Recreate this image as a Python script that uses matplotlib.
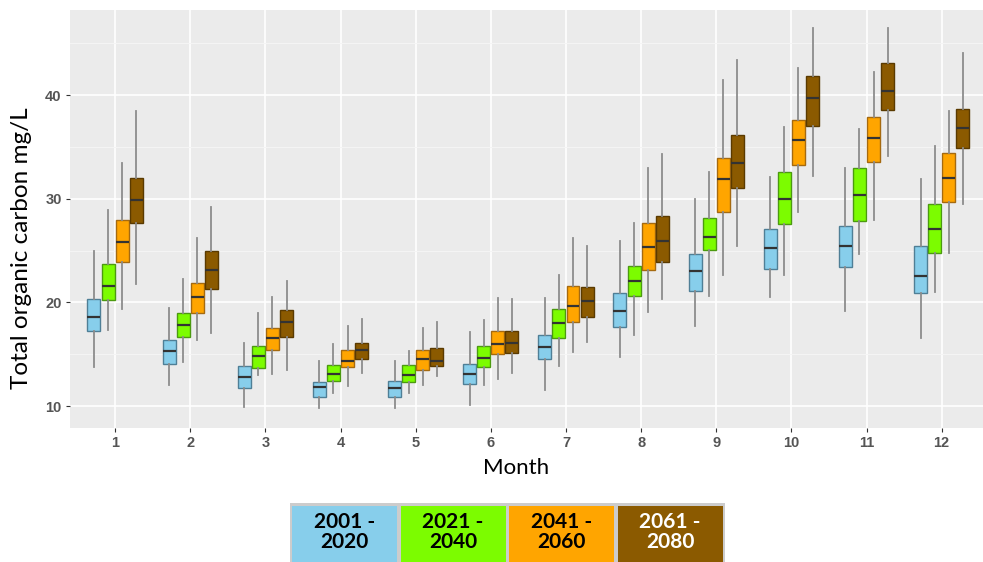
import matplotlib
matplotlib.use('Agg')
import matplotlib.pyplot as plt
from matplotlib.patches import Rectangle

months = [1, 2, 3, 4, 5, 6, 7, 8, 9, 10, 11, 12]
periods = ['2001 -\n2020', '2021 -\n2040', '2041 -\n2060', '2061 -\n2080']
fills = ['#87CEEB', '#7CFC00', '#FFA500', '#8B5A00']
edges = ['#4F7F96', '#4C9A10', '#A56A10', '#5A3A00']
text_cols = ['black', 'black', 'black', 'white']

# each row: whisker low, q1, median, q3, whisker high
p2001 = [[13.8, 17.2, 18.55, 20.3, 25.0],
         [12.0, 14.1, 15.35, 16.4, 19.5],
         [9.95, 11.7, 12.8, 13.9, 16.05],
         [9.8, 10.9, 11.8, 12.35, 14.3],
         [9.8, 10.85, 11.7, 12.4, 14.3],
         [10.1, 12.1, 13.1, 14.1, 17.1],
         [11.5, 14.5, 15.7, 16.85, 20.4],
         [14.7, 17.65, 19.2, 20.9, 25.9],
         [17.7, 21.1, 23.05, 24.7, 30.0],
         [20.55, 23.25, 25.2, 27.1, 32.1],
         [19.2, 23.4, 25.4, 27.4, 33.0],
         [16.6, 20.9, 22.55, 25.4, 31.9]]
p2021 = [[17.3, 20.2, 21.6, 23.7, 28.9],
         [14.2, 16.7, 17.8, 18.95, 22.3],
         [13.0, 13.7, 14.8, 15.8, 18.95],
         [11.3, 12.4, 13.1, 14.0, 15.95],
         [11.3, 12.3, 13.0, 13.95, 15.35],
         [12.05, 13.75, 14.6, 15.8, 18.3],
         [13.85, 16.6, 18.05, 19.4, 22.65],
         [16.85, 20.65, 22.1, 23.55, 27.7],
         [20.6, 25.05, 26.3, 28.1, 32.6],
         [22.6, 27.55, 30.0, 32.6, 36.95],
         [24.7, 27.85, 30.4, 33.0, 36.7],
         [21.0, 24.8, 27.05, 29.5, 35.1]]
p2041 = [[19.4, 23.9, 25.8, 27.9, 33.4],
         [16.4, 19.0, 20.55, 21.9, 26.2],
         [13.1, 15.4, 16.6, 17.5, 20.55],
         [11.9, 13.75, 14.35, 15.4, 17.7],
         [12.05, 13.5, 14.5, 15.4, 17.5],
         [12.6, 15.0, 16.0, 17.2, 20.4],
         [15.25, 18.15, 19.6, 21.6, 26.2],
         [19.05, 23.1, 25.3, 27.7, 33.0],
         [22.6, 28.75, 31.9, 33.95, 41.4],
         [28.75, 33.25, 35.7, 37.6, 42.6],
         [27.95, 33.55, 35.9, 37.85, 42.25],
         [24.8, 29.7, 32.0, 34.4, 38.5]]
p2061 = [[21.8, 27.7, 29.9, 32.0, 38.5],
         [17.0, 21.3, 23.1, 25.0, 29.2],
         [13.5, 16.7, 18.1, 19.3, 22.1],
         [13.2, 14.55, 15.4, 16.1, 18.4],
         [12.9, 13.9, 14.35, 15.6, 18.15],
         [13.2, 15.1, 16.05, 17.2, 20.3],
         [16.2, 18.6, 20.1, 21.5, 25.4],
         [20.3, 23.9, 25.9, 28.3, 34.3],
         [25.4, 31.05, 33.4, 36.15, 43.4],
         [32.2, 37.0, 39.7, 41.8, 46.5],
         [34.15, 38.55, 40.4, 43.1, 46.5],
         [29.45, 34.85, 36.85, 38.65, 44.1]]
series = [p2001, p2021, p2041, p2061]

fig = plt.figure(figsize=(9.83, 5.62), dpi=100)
ax = fig.add_axes([70 / 983, 1 - 428 / 562, 913 / 983, 418 / 562])
ax.set_facecolor('#EBEBEB')

step = 0.75 / 4
for i, data in enumerate(series):
    stats = []
    for row in data:
        lo, q1, med, q3, hi = row
        stats.append(dict(whislo=lo, q1=q1, med=med, q3=q3, whishi=hi, fliers=[]))
    pos = [m + (i - 1.5) * step for m in months]
    ax.bxp(stats, positions=pos, widths=step * 0.92, patch_artist=True,
           showcaps=False, showfliers=False, manage_ticks=False,
           boxprops=dict(facecolor=fills[i], edgecolor=edges[i], linewidth=1.0),
           medianprops=dict(color='#333333', linewidth=1.6),
           whiskerprops=dict(color='#8C8C8C', linewidth=1.3),
           zorder=3)

ax.set_xlim(0.4, 12.55)
ax.set_ylim(7.88, 48.2)
ax.set_xticks(months)
ax.set_xticklabels([str(m) for m in months])
ax.set_yticks([10, 20, 30, 40])
ax.set_yticks([15, 25, 35, 45], minor=True)
ax.grid(which='major', color='white', linewidth=1.2, zorder=0)
ax.grid(which='minor', axis='y', color='#F5F5F5', linewidth=0.7, zorder=0)
ax.set_axisbelow(True)
for s in ax.spines.values():
    s.set_visible(False)
ax.tick_params(which='major', length=3, color='#333333', labelcolor='#555555',
               labelsize=10.5, pad=3)
ax.tick_params(which='minor', length=0)
for lab in ax.get_xticklabels() + ax.get_yticklabels():
    lab.set_family('Liberation Sans')
    lab.set_fontweight('bold')

ax.set_xlabel('Month', family='Lato', fontsize=16, labelpad=6)
ax.set_ylabel('Total organic carbon mg/L', family='Lato', fontsize=17.5, labelpad=8)
ax.xaxis.set_label_coords(0.4885, -0.072)
ax.yaxis.set_label_coords(-0.0416, 0.43)

# legend strip under the plot
lx0, ly0, cw, ch, gap = 290, 503, 107, 59, 1.5
fig.patches.append(Rectangle((lx0 / 983, 0), (4 * cw + 3 * gap + 2) / 983, (562 - ly0) / 562,
                             transform=fig.transFigure, facecolor='#CCCCCC',
                             edgecolor='none', zorder=1))
for i, lab in enumerate(periods):
    x = lx0 + 2 + i * (cw + gap)
    fig.patches.append(Rectangle((x / 983, 0), (cw - 2) / 983, (562 - ly0 - 2.5) / 562,
                                 transform=fig.transFigure, facecolor=fills[i],
                                 edgecolor='none', zorder=2))
    fig.text((x + (cw - 2) / 2) / 983, 1 - 532 / 562, lab, ha='center', va='center',
             family='Lato', fontweight='bold', fontsize=15, color=text_cols[i],
             linespacing=1.05, zorder=3)

fig.savefig('out.png', dpi=100)
